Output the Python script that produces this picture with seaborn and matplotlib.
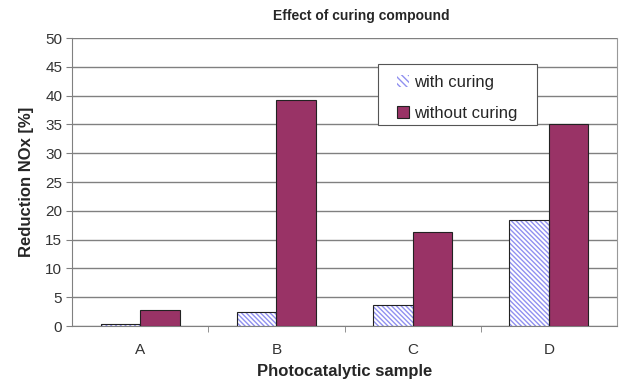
import matplotlib
matplotlib.use("Agg")
import matplotlib.pyplot as plt
import seaborn as sns
import pandas as pd
from matplotlib.patches import Rectangle, Patch

samples = ["A", "B", "C", "D"]
with_curing = [0.3, 2.4, 3.6, 18.4]
without_curing = [2.8, 39.2, 16.3, 35.1]
series_names = ["with curing", "without curing"]

df = pd.DataFrame({
    "sample": samples * 2,
    "value": with_curing + without_curing,
    "series": [series_names[0]] * 4 + [series_names[1]] * 4,
})

sns.set_style("white")
plt.rcParams["font.family"] = ["Liberation Sans", "DejaVu Sans"]

fig = plt.figure(figsize=(6.22, 3.83), dpi=100)
ax = fig.add_axes([72 / 622, 1 - 326 / 383, 545 / 622, 288 / 383])

hatch_col = "#9090f0"
maroon = "#993366"
sns.barplot(data=df, x="sample", y="value", hue="series", ax=ax,
            palette=["white", maroon], width=0.58, saturation=1,
            legend=False, zorder=3)

for p in ax.containers[0]:
    p.set_facecolor("white")
    p.set_edgecolor(hatch_col)
    p.set_hatch("\\" * 7)
    p.set_linewidth(0)
    ax.add_patch(Rectangle(p.get_xy(), p.get_width(), p.get_height(),
                           fill=False, edgecolor="#222222", linewidth=0.8, zorder=4))
for p in ax.containers[1]:
    p.set_edgecolor("#222222")
    p.set_linewidth(0.8)

ax.set_ylim(0, 50)
ax.set_xlim(-0.5, 3.5)
ax.set_yticks(range(0, 51, 5))
ax.yaxis.grid(True, color="#808080", linewidth=1.0, zorder=0)
ax.set_axisbelow(True)
ax.spines["top"].set_visible(False)
ax.spines["right"].set_color("#999999")
ax.spines["left"].set_color("#808080")
ax.spines["bottom"].set_color("#808080")
ax.tick_params(axis="y", direction="out", length=4, color="#808080",
               left=True, labelsize=11, labelcolor="#333333", pad=3)
ax.tick_params(axis="x", length=0, labelsize=11, labelcolor="#333333", pad=12)
ax.set_xticks([0.5, 1.5, 2.5], minor=True)
ax.tick_params(axis="x", which="minor", direction="out", length=4, color="#808080", bottom=True)

ax.set_xlabel("Photocatalytic sample", fontsize=12, fontweight="bold", labelpad=5)
ax.set_ylabel("Reduction NOx [%]", fontsize=12, fontweight="bold", labelpad=8)
fig.text(361 / 622, 1 - 16 / 383, "Effect of curing compound", ha="center", va="center",
         fontsize=10, fontweight="bold")

# legend frame
fig.add_artist(Rectangle((378 / 622, 1 - 125 / 383), 159 / 622, 61 / 383,
                         transform=fig.transFigure, facecolor="white",
                         edgecolor="#555555", linewidth=0.8, zorder=5))
handles = [Patch(facecolor="white", edgecolor=hatch_col, hatch="\\" * 5, linewidth=0),
           Patch(facecolor=maroon, edgecolor="#222222", linewidth=0.8)]
leg = fig.legend(handles, series_names, loc="upper left",
                 bbox_to_anchor=(397 / 622, 1 - 75 / 383),
                 frameon=False, fontsize=12,
                 handlelength=0.75, handleheight=0.75, handletextpad=0.3,
                 borderpad=0, labelspacing=0.95, borderaxespad=0)
leg.set_zorder(6)

fig.savefig("out.png", dpi=100, facecolor="white")
